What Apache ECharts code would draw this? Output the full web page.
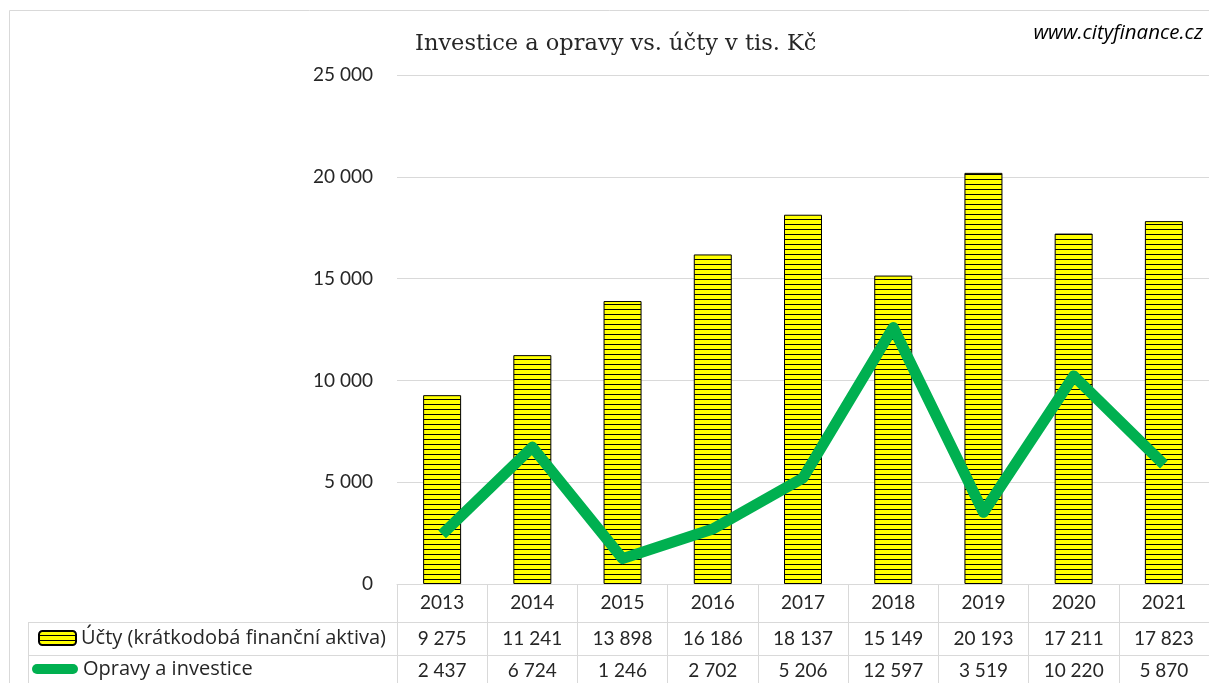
<!DOCTYPE html>
<html>
<head>
    <meta charset="utf-8">
    <title>Investice a opravy vs. účty</title>
    <script src="https://cdn.jsdelivr.net/npm/echarts@6/dist/echarts.min.js"></script>
    <style>
        html, body { margin: 0; padding: 0; background: #fff; }
    </style>
</head>
<body>
    <div id="main" style="width:1209px; height:683px"></div>
    <script type="text/javascript">
        var years = ['2013', '2014', '2015', '2016', '2017', '2018', '2019', '2020', '2021'];
        var ucty = [9275, 11241, 13898, 16186, 18137, 15149, 20193, 17211, 17823];
        var opravy = [2437, 6724, 1246, 2702, 5206, 12597, 3519, 10220, 5870];
        var uctyName = 'Účty (krátkodobá finanční aktiva)';
        var opravyName = 'Opravy a investice';

        // cisla s mezerou mezi tisici
        function fmt(v) {
            return String(v).replace(/\B(?=(\d{3})+(?!\d))/g, ' ');
        }

        // zluta s vodorovnymi cernymi prouzky
        var pat = document.createElement('canvas');
        pat.width = 5;
        pat.height = 5;
        var ctx = pat.getContext('2d');
        ctx.fillStyle = '#ffff00';
        ctx.fillRect(0, 0, 5, 5);
        ctx.fillStyle = '#000000';
        ctx.fillRect(0, 4, 5, 1);

        var font = 'Lato';
        var txt = '#262626';
        var lineCol = '#d9d9d9';

        var myChart = echarts.init(document.getElementById('main'));

        var option = {
            animation: false,
            title: [{
                text: 'Investice a opravy vs. účty v tis. Kč',
                left: 410,
                top: 28,
                textStyle: {fontFamily: 'DejaVu Serif', fontSize: 22.5, fontWeight: 'normal', color: txt}
            }, {
                text: 'www.cityfinance.cz',
                right: 1,
                top: 18,
                textStyle: {fontFamily: 'Open Sans', fontSize: 20.5, fontStyle: 'italic', fontWeight: 'normal', color: '#000'}
            }],
            legend: [{
                data: [uctyName],
                left: 38,
                top: 628,
                padding: 0,
                itemWidth: 37,
                itemHeight: 14,
                textStyle: {fontFamily: 'Open Sans', fontSize: 20, color: txt}
            }, {
                data: [{name: opravyName, icon: 'path://M5,0 L41,0 A5,5 0 0 1 41,10 L5,10 A5,5 0 0 1 5,0 Z'}],
                left: 32,
                top: 659,
                padding: 0,
                itemWidth: 46,
                itemHeight: 10,
                textStyle: {fontFamily: 'Open Sans', fontSize: 20, color: txt}
            }],
            grid: {left: 397, right: -4, top: 75, bottom: 99},
            xAxis: [{
                type: 'category',
                data: years,
                axisLine: {lineStyle: {color: lineCol}},
                axisTick: {show: true, length: 99, lineStyle: {color: lineCol}},
                axisLabel: {margin: 9, fontFamily: font, fontSize: 19, color: txt},
                splitLine: {show: false}
            }, {
                type: 'category',
                data: ucty.map(fmt),
                position: 'bottom',
                offset: 38,
                axisLine: {lineStyle: {color: lineCol}},
                axisTick: {show: false},
                axisLabel: {margin: 7, fontFamily: font, fontSize: 19, color: txt}
            }, {
                type: 'category',
                data: opravy.map(fmt),
                position: 'bottom',
                offset: 71,
                axisLine: {lineStyle: {color: lineCol}},
                axisTick: {show: false},
                axisLabel: {margin: 6, fontFamily: font, fontSize: 19, color: txt}
            }],
            yAxis: {
                type: 'value',
                min: 0,
                max: 25000,
                interval: 5000,
                axisLine: {show: false},
                axisTick: {show: false},
                axisLabel: {margin: 24, fontFamily: font, fontSize: 19, color: txt, formatter: fmt},
                splitLine: {lineStyle: {color: lineCol}}
            },
            graphic: [
                {type: 'rect', shape: {x: 9.5, y: 10.5, width: 1300, height: 800}, style: {fill: 'none', stroke: lineCol, lineWidth: 1}, silent: true},
                {type: 'line', shape: {x1: 28, y1: 622.5, x2: 397, y2: 622.5}, style: {stroke: lineCol, lineWidth: 1}},
                {type: 'line', shape: {x1: 28, y1: 655.5, x2: 397, y2: 655.5}, style: {stroke: lineCol, lineWidth: 1}},
                {type: 'line', shape: {x1: 28.5, y1: 622, x2: 28.5, y2: 690}, style: {stroke: lineCol, lineWidth: 1}}
            ],
            series: [{
                name: uctyName,
                type: 'bar',
                data: ucty,
                barWidth: 38,
                itemStyle: {
                    color: {image: pat, repeat: 'repeat'},
                    borderColor: '#000',
                    borderWidth: 1
                }
            }, {
                name: opravyName,
                type: 'line',
                data: opravy,
                symbol: 'none',
                z: 5,
                itemStyle: {color: '#00b050'},
                lineStyle: {color: '#00b050', width: 11, join: 'round', cap: 'butt'}
            }]
        };

        myChart.setOption(option);
    </script>
</body>
</html>
